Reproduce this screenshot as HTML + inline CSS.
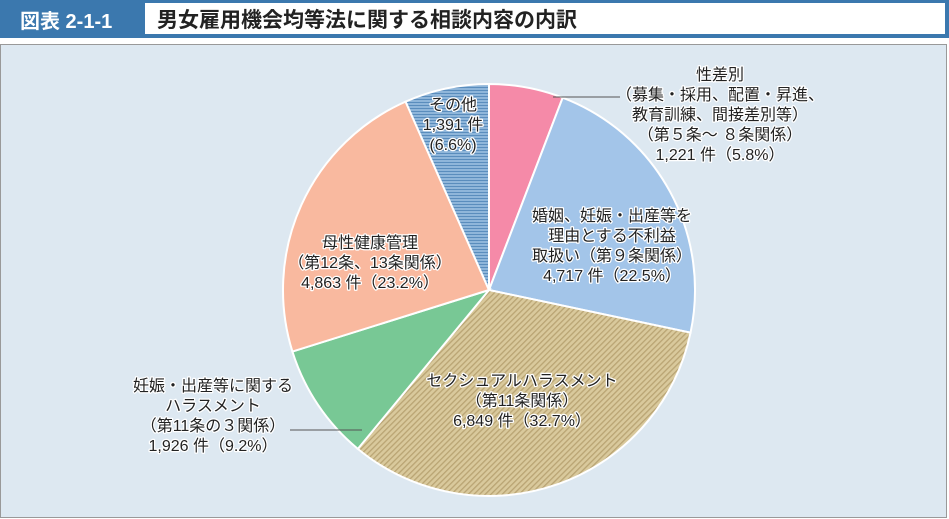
<!DOCTYPE html>
<html><head><meta charset="utf-8"><style>
body{margin:0;width:949px;height:519px;overflow:hidden;background:#fff;font-family:"Liberation Sans","Noto Sans CJK JP",sans-serif;}
#hdr{position:absolute;left:0;top:0;width:949px;height:38px;background:#3b78ae;}
#hdr .num{position:absolute;left:20px;top:5px;color:#fff;font-size:20px;font-weight:bold;}
#hdr .ttl{position:absolute;left:145px;top:3px;width:800px;height:31px;background:#fff;}
#hdr .ttl span{position:absolute;left:12px;top:1px;font-size:21px;font-weight:bold;color:#222;}
#panel{position:absolute;left:0;top:44px;width:945px;height:472px;background:#dde8f1;border:1px solid #999;}
svg{position:absolute;left:0;top:0;}
text{font-family:"Liberation Sans","Noto Sans CJK JP",sans-serif;font-size:16px;fill:#222;text-anchor:middle;paint-order:stroke;stroke:#fff;stroke-width:2.5px;stroke-linejoin:round;}
</style></head><body>
<div id="hdr"><span class="num">図表 2-1-1</span><div class="ttl"><span>男女雇用機会均等法に関する相談内容の内訳</span></div></div>
<div id="panel"></div>
<svg width="949" height="519" id="chart">
<defs>
<pattern id="tan" width="4" height="4" patternUnits="userSpaceOnUse" patternTransform="rotate(45)"><rect width="4" height="4" fill="#d9c99c"/><rect width="1.3" height="4" fill="#b9a473"/></pattern>
<pattern id="oth" width="4" height="3" patternUnits="userSpaceOnUse"><rect width="4" height="3" fill="#8fb6da"/><rect width="4" height="1" fill="#5a8dbd"/></pattern>
</defs>
<g id="slices"></g>
<line x1="553" y1="97" x2="620" y2="97" stroke="#555"/>
<line x1="290" y1="430" x2="362" y2="430" stroke="#555"/>
<g id="labels"></g>
</svg>
<script>
const categories=["性差別","婚姻、妊娠・出産等を理由とする不利益取扱い","セクシュアルハラスメント","妊娠・出産等に関するハラスメント","母性健康管理","その他"];
const counts=[1221,4717,6849,1926,4863,1391];
const percents=[5.8,22.5,32.7,9.2,23.2,6.6];
const fills=["#f58aa8","#a3c5e9","url(#tan)","#78c895","#f9b99f","url(#oth)"];
const labelLines=[
 ["性差別","（募集・採用、配置・昇進、","教育訓練、間接差別等）","（第５条～ ８条関係）","1,221 件（5.8%）"],
 ["婚姻、妊娠・出産等を","理由とする不利益","取扱い（第９条関係）","4,717 件（22.5%）"],
 ["セクシュアルハラスメント","（第11条関係）","6,849 件（32.7%）"],
 ["妊娠・出産等に関する","ハラスメント","（第11条の３関係）","1,926 件（9.2%）"],
 ["母性健康管理","（第12条、13条関係）","4,863 件（23.2%）"],
 ["その他","1,391 件","(6.6%)"]];
const labelPos=[[720,80],[612,221],[522,386],[213,391],[370,248],[453,110]];
const cx=489,cy=290,r=206;
const ns="http://www.w3.org/2000/svg";
const total=counts.reduce((a,b)=>a+b,0);
let a=0;
const sg=document.getElementById('slices');
counts.forEach((v,i)=>{
 const a2=a+v/total*2*Math.PI;
 const x1=cx+r*Math.sin(a),y1=cy-r*Math.cos(a),x2=cx+r*Math.sin(a2),y2=cy-r*Math.cos(a2);
 const p=document.createElementNS(ns,'path');
 p.setAttribute('d',`M${cx},${cy}L${x1},${y1}A${r},${r} 0 ${a2-a>Math.PI?1:0} 1 ${x2},${y2}Z`);
 p.setAttribute('fill',fills[i]);p.setAttribute('stroke','#fff');p.setAttribute('stroke-width','2');
 
 
 sg.appendChild(p);a=a2;
});
const lg=document.getElementById('labels');
labelLines.forEach((lines,i)=>{
 const t=document.createElementNS(ns,'text');
 
 
 lines.forEach((s,j)=>{const ts=document.createElementNS(ns,'tspan');ts.setAttribute('x',labelPos[i][0]);ts.setAttribute('y',labelPos[i][1]+j*20);ts.textContent=s;t.appendChild(ts);});
 lg.appendChild(t);
});
</script>
</body></html>
